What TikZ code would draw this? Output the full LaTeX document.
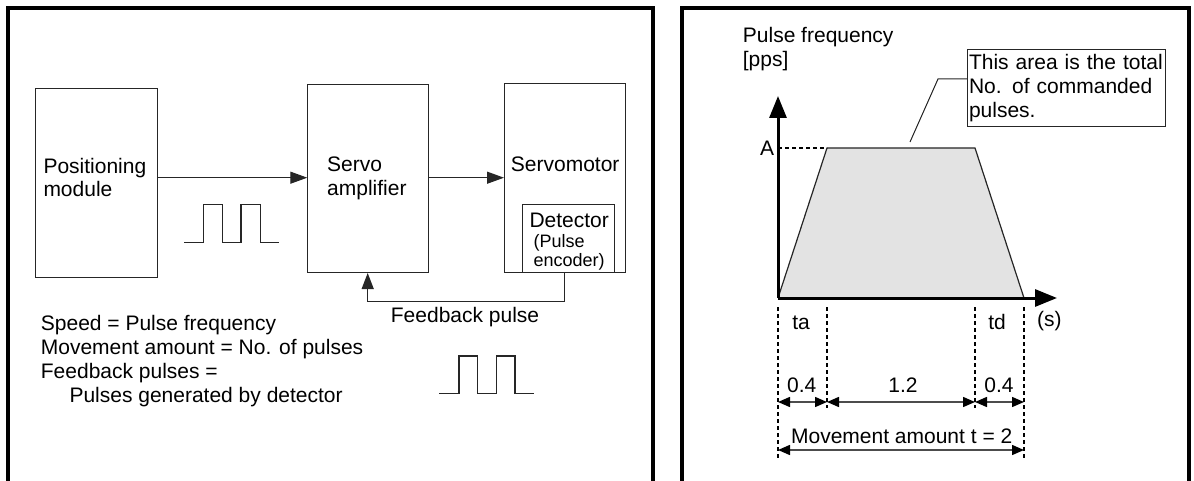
\documentclass[tikz,border=0pt]{standalone}
\usepackage{fontspec}
\setmainfont{Liberation Sans}
\usetikzlibrary{arrows.meta,calc}
\begin{document}
\begin{tikzpicture}[x=1pt,y=-1pt,
  txt/.style={inner sep=0pt, font=\fontsize{21}{24}\selectfont, anchor=base west, align=left},
  ctxt/.style={inner sep=0pt, font=\fontsize{21}{24}\selectfont, anchor=base},
  small/.style={inner sep=0pt, font=\fontsize{18}{19}\selectfont, anchor=base west, align=left},
  blk/.style={draw=black!85, line width=1pt, inner sep=0pt, anchor=north west},
  panel/.style={line width=4pt, line join=miter},
  conn/.style={draw=black!85, line width=1.2pt, -{Triangle[length=17pt,width=12pt]}},
  wave/.style={draw=black!85, line width=1.1pt},
  axisline/.style={line width=3pt, -{Triangle[length=22pt,width=17pt]}},
  thindash/.style={line width=1.1pt, dash pattern=on 4pt off 3pt},
  thickdash/.style={line width=2pt, dash pattern=on 4pt off 3pt},
  dim/.style={draw=black!70, line width=1.5pt, {Triangle[length=12pt,width=10pt,black]}-{Triangle[length=12pt,width=10pt,black]}},
]
\useasboundingbox (0,0) rectangle (1194,481);

% ---------- left panel ----------
\draw[panel] (8,481) -- (8,8) -- (653,8) -- (653,481);

\node[blk, minimum width=121.7pt, minimum height=189pt] (pm) at (35,87.7) {};
\node[txt] (pmt) at (43.3,197) {Positioning\\module};

\node[blk, minimum width=121pt, minimum height=188pt] (sa) at (307.3,84) {};
\node[txt] (sat) at (327,195.7) {Servo\\amplifier};

\node[blk, minimum width=121.3pt, minimum height=188.7pt] (sm) at (504,83.3) {};
\node[txt] (smt) at (510.7,171.7) {Servomotor};

\node[blk, minimum width=92pt, minimum height=67.7pt] (det) at (522.3,204.3) {};
\node[txt] (dett) at (529.3,227.7) {Detector};
\node[small] (dets) at (533.5,266.7) {(Pulse\\encoder)};

\draw[conn] (pm.east |- 0,177.7) -- (sa.west |- 0,177.7);
\draw[conn] (sa.east |- 0,177.7) -- (sm.west |- 0,177.7);

\coordinate (fbR) at (564.3,301.5);
\coordinate (fbL) at (367.7,301.5);
\draw[conn, -{Triangle[length=16pt,width=12pt]}] (fbR |- det.south) -- (fbR) -- (fbL) -- (fbL |- sa.south);
\node[txt] (fbt) at (390.7,322.7) {Feedback pulse};

\draw[wave] (184,242.3) -- (203.3,242.3) -- (203.3,204.3) -- (222.3,204.3) -- (222.3,242.3) -- (241,242.3) -- (241,204.3) -- (260.3,204.3) -- (260.3,242.3) -- (278.7,242.3);
\draw[wave] (439.3,393.3) -- (459,393.3) -- (459,356) -- (477.3,356) -- (477.3,393.3) -- (496.3,393.3) -- (496.3,356) -- (515,356) -- (515,393.3) -- (534,393.3);

\node[txt] (notes) at (40.7,402.5) {Speed = Pulse frequency\\Movement amount = No. of pulses\\Feedback pulses =\\\hspace*{28.6pt}Pulses generated by detector};

% ---------- right panel ----------
\draw[panel] (682,481) -- (682,8) -- (1189,8) -- (1189,481);

\fill[black!11] (778,298) -- (827,148) -- (975,148) -- (1024,298) -- cycle;
\draw[line width=1.2pt, black!85] (778,298) -- (827,148) -- (975,148) -- (1024,298);
\draw[thickdash] (778,148) -- (827,148);

\coordinate (O) at (778,298);
\draw[axisline] (O) -- (778,96);
\draw[axisline] (O) -- (1057,298);

\node[txt] (yl) at (742.7,67) {Pulse frequency\\{[pps]}};
\node[ctxt] (A) at (767,155.5) {A};

\node[draw=black!85, line width=1pt, anchor=north west, inner sep=0pt, minimum width=198pt, minimum height=76.7pt, text width=195pt, align=left, font=\fontsize{21}{24}\selectfont] (note) at (967,49.3) {This area is the total\\No. of commanded\\pulses.};
\draw[line width=1pt, black!85] (910,142) -- (938,79) -- (note.west |- 0,79);

\draw[thindash] (778,307) -- (778,458);
\draw[thickdash] (827,307) -- (827,408);
\draw[thindash] (975,307) -- (975,408);
\draw[thickdash] (1024,307) -- (1024,458);

\node[ctxt] (ta) at (801,329.3) {ta};
\node[ctxt] (td) at (997,329.3) {td};
\node[txt] (s) at (1037,326.7) {(s)};

\draw[dim] (778,402) -- (827,402);
\draw[dim] (827,402) -- (975,402);
\draw[dim] (975,402) -- (1024,402);
\draw[dim] (778,450) -- (1024,450);

\node[ctxt] (d1) at (801.7,392.7) {0.4};
\node[ctxt] (d2) at (903,392.7) {1.2};
\node[ctxt] (d3) at (999,392.7) {0.4};
\node[ctxt] (dt) at (901.7,443.3) {Movement amount t = 2};
\end{tikzpicture}
\end{document}
